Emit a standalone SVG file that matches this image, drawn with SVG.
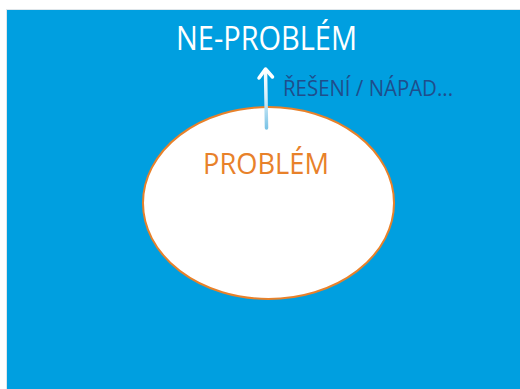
<svg xmlns="http://www.w3.org/2000/svg" width="520" height="389" viewBox="0 0 520 389">
<style>
.t{font-family:"Open Sans","Liberation Sans",sans-serif;}
</style>
<defs>
<linearGradient id="ag" x1="0" y1="128" x2="0" y2="68" gradientUnits="userSpaceOnUse">
<stop offset="0" stop-color="#7cc4e6"/>
<stop offset="0.5" stop-color="#d6eef9"/>
<stop offset="1" stop-color="#ffffff"/>
</linearGradient>
</defs>
<rect x="0" y="0" width="520" height="389" fill="#ffffff"/>
<rect x="6" y="9" width="514" height="380" fill="#dfe6ea"/>
<rect x="7" y="10" width="513" height="379" fill="#009fe0"/>
<g id="problem">
<ellipse cx="268.5" cy="203" rx="125.5" ry="96" fill="#ffffff" stroke="#e8812a" stroke-width="2"/>
<text class="t" x="266" y="174" font-size="30" fill="#e8812a" text-anchor="middle" textLength="126" lengthAdjust="spacingAndGlyphs">PROBLÉM</text>
</g>
<g id="ne-problem">
<text class="t" x="266.5" y="50" font-size="32" fill="#ffffff" text-anchor="middle" textLength="181" lengthAdjust="spacingAndGlyphs">NE-PROBLÉM</text>
</g>
<g id="connectors">
<path d="M266.5 128 L265.5 70" fill="none" stroke="url(#ag)" stroke-width="3.5" stroke-linecap="round"/>
<path d="M259 78 L265.5 69 L272.5 77" fill="none" stroke="#ffffff" stroke-width="3.5" stroke-linecap="round" stroke-linejoin="round"/>
<text class="t" x="283" y="96" font-size="22" fill="#1f4e8c" textLength="170" lengthAdjust="spacingAndGlyphs">ŘEŠENÍ / NÁPAD...</text>
</g>
</svg>
